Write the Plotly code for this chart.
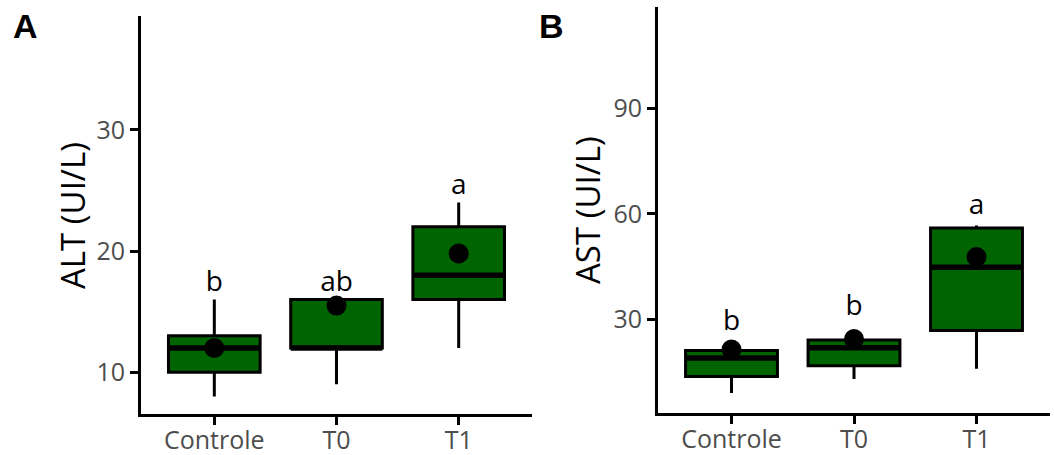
import plotly.graph_objects as go

# ---------------- data ----------------
categories = ["Controle", "T0", "T1"]

# Panel A : ALT (UI/L)
alt_lower = [8, 9, 12]
alt_q1 = [10, 12, 16]
alt_median = [12, 12, 18]
alt_q3 = [13, 16, 22]
alt_upper = [16, 16, 24]
alt_mean = [12.0, 15.5, 19.8]
alt_letters = ["b", "ab", "a"]
alt_letter_y = [17.3, 17.3, 25.3]

# Panel B : AST (UI/L)
ast_lower = [8.9, 12.9, 15.8]
ast_q1 = [13.6, 16.7, 26.7]
ast_median = [18.9, 21.8, 44.8]
ast_q3 = [21.0, 24.0, 56.0]
ast_upper = [21.0, 24.0, 56.7]
ast_mean = [21.3, 24.3, 47.7]
ast_letters = ["b", "b", "a"]
ast_letter_y = [29.0, 33.1, 62.0]

# ---------------- styling ----------------
W, H = 1054, 455
FILL = "#006400"
BOX_W = 0.75
FONT = "Open Sans"
TICK_COL = "#4D4D4D"

fig = go.Figure()
pos = [1, 2, 3]


def add_panel(xa, ya, lower, q1, med, q3, upper, mean, letters, letter_y):
    for i, p in enumerate(pos):
        fig.add_trace(go.Box(
            x=[p], q1=[q1[i]], median=[med[i]], q3=[q3[i]],
            lowerfence=[lower[i]], upperfence=[upper[i]],
            width=BOX_W, fillcolor=FILL,
            line=dict(color="black", width=3),
            whiskerwidth=0, boxpoints=False, showlegend=False,
            xaxis=xa, yaxis=ya, hoverinfo="skip"))
    # thick median lines
    mx, my = [], []
    for i, p in enumerate(pos):
        mx += [p - BOX_W / 2, p + BOX_W / 2, None]
        my += [med[i], med[i], None]
    fig.add_trace(go.Scatter(x=mx, y=my, mode="lines",
                             line=dict(color="black", width=5.5),
                             showlegend=False, xaxis=xa, yaxis=ya, hoverinfo="skip"))
    # mean points
    fig.add_trace(go.Scatter(x=pos, y=mean, mode="markers",
                             marker=dict(color="black", size=20),
                             showlegend=False, xaxis=xa, yaxis=ya, hoverinfo="skip"))
    # significance letters
    fig.add_trace(go.Scatter(x=pos, y=letter_y, mode="text", text=letters,
                             textposition="middle center",
                             textfont=dict(family=FONT, size=28, color="black"),
                             showlegend=False, xaxis=xa, yaxis=ya, hoverinfo="skip"))


add_panel("x", "y", alt_lower, alt_q1, alt_median, alt_q3, alt_upper, alt_mean,
          alt_letters, alt_letter_y)
add_panel("x2", "y2", ast_lower, ast_q1, ast_median, ast_q3, ast_upper, ast_mean,
          ast_letters, ast_letter_y)

axis_common = dict(showline=True, linecolor="black", linewidth=3,
                   ticks="outside", ticklen=8, tickwidth=3, tickcolor="black",
                   showgrid=False, zeroline=False, automargin=False,
                   tickfont=dict(family=FONT, size=25, color=TICK_COL))
xaxis_extra = dict(ticklabelstandoff=-6)

fig.update_layout(
    width=W, height=H, autosize=False,
    margin=dict(l=0, r=0, t=0, b=0, pad=0),
    plot_bgcolor="white", paper_bgcolor="white",
    xaxis=dict(domain=[141 / W, 532 / W], range=[0.4, 3.6],
               tickvals=pos, ticktext=categories, anchor="y", **axis_common, **xaxis_extra),
    yaxis=dict(domain=[(H - 414) / H, (H - 16) / H], range=[6.55, 39.4],
               tickvals=[10, 20, 30], anchor="x", **axis_common),
    xaxis2=dict(domain=[658 / W, 1050 / W], range=[0.4, 3.6],
                tickvals=pos, ticktext=categories, anchor="y2", **axis_common, **xaxis_extra),
    yaxis2=dict(domain=[(H - 413) / H, (H - 7) / H], range=[3.2, 119],
                tickvals=[30, 60, 90], anchor="x2", **axis_common),
    annotations=[
        dict(text="ALT (UI/L)", x=72 / W, y=(H - 216) / H, xref="paper", yref="paper",
             textangle=-90, showarrow=False, xanchor="center", yanchor="middle",
             font=dict(family=FONT, size=33, color="black")),
        dict(text="AST (UI/L)", x=587 / W, y=(H - 210) / H, xref="paper", yref="paper",
             textangle=-90, showarrow=False, xanchor="center", yanchor="middle",
             font=dict(family=FONT, size=33, color="black")),
        dict(text="<b>A</b>", x=25 / W, y=(H - 26) / H, xref="paper", yref="paper",
             showarrow=False, xanchor="center", yanchor="middle",
             font=dict(family="Liberation Sans", size=34, color="black")),
        dict(text="<b>B</b>", x=551 / W, y=(H - 26) / H, xref="paper", yref="paper",
             showarrow=False, xanchor="center", yanchor="middle",
             font=dict(family="Liberation Sans", size=34, color="black")),
    ],
)

fig.write_html("out.html", config={"displayModeBar": False},
               post_script="document.body.style.margin='0';")
